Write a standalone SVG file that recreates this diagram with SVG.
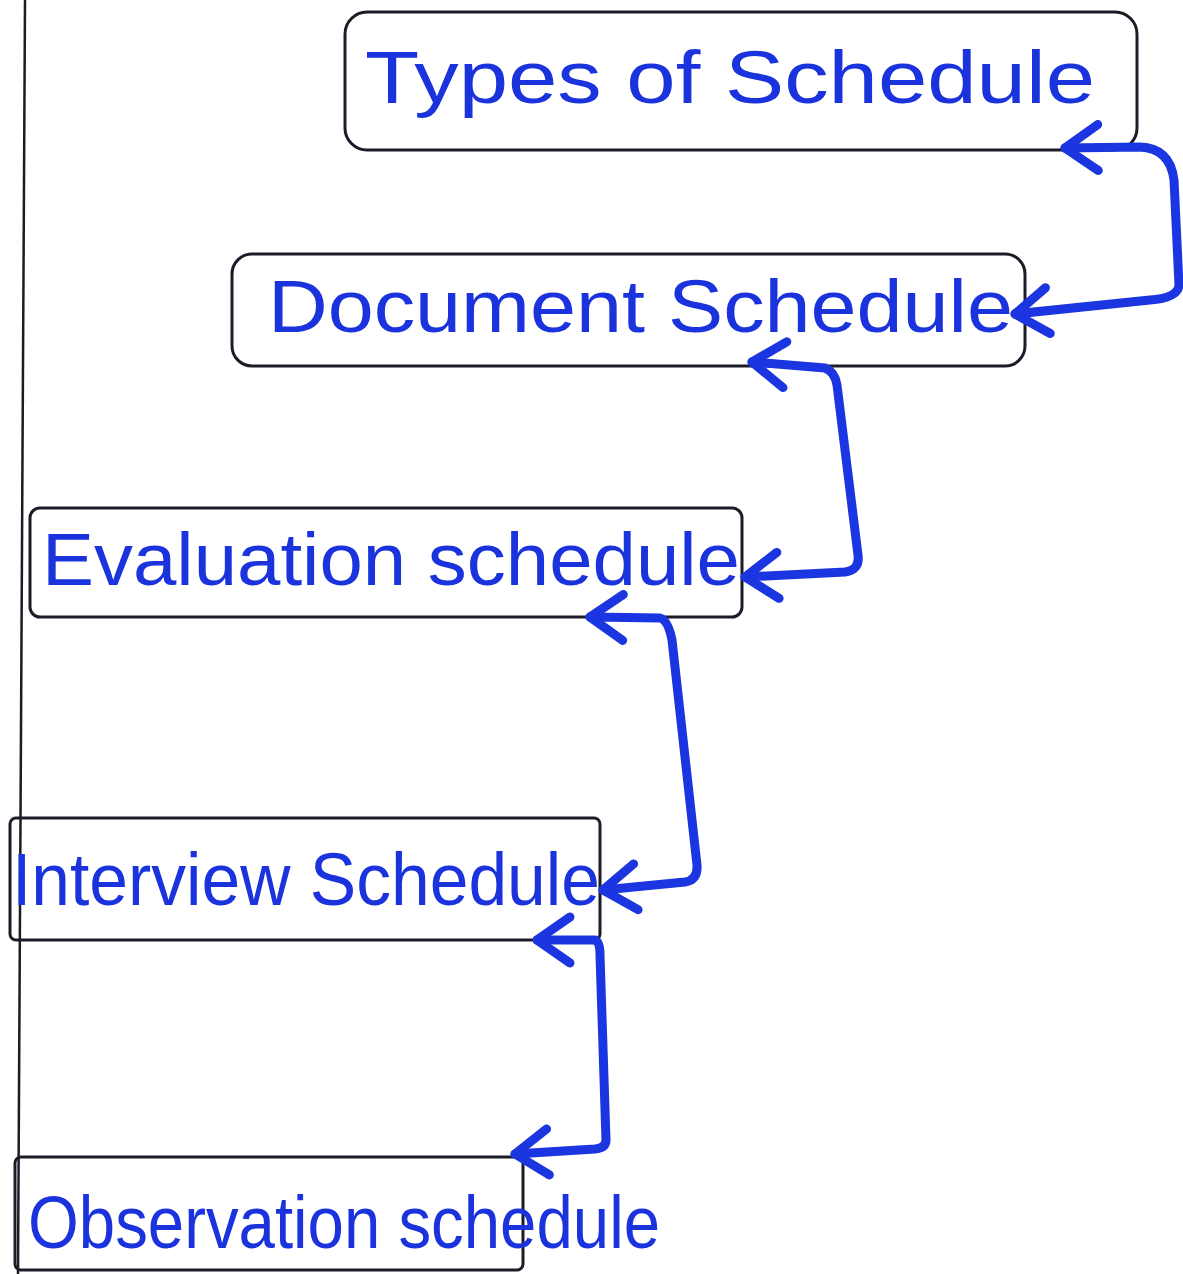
<svg xmlns="http://www.w3.org/2000/svg" width="1183" height="1274" viewBox="0 0 1183 1274">
<style>
.box{fill:none;stroke:#1c1c28;stroke-width:3}
.lbl{font-family:"Liberation Sans","Noto Sans",sans-serif;fill:#1b33dc;font-size:74px}
.con{fill:none;stroke:#1b36e0;stroke-width:9;stroke-linecap:round;stroke-linejoin:round}
</style>
<defs>
<marker id="ah" viewBox="0 0 40 50" refX="35" refY="25" markerWidth="40" markerHeight="50" markerUnits="userSpaceOnUse" orient="auto-start-reverse" overflow="visible">
<path d="M2,2 L35,25 L2,48" fill="none" stroke="#1b36e0" stroke-width="9" stroke-linecap="round" stroke-linejoin="round"/>
</marker>
</defs>
<rect width="1183" height="1274" fill="#ffffff"/>
<line x1="25" y1="0" x2="18" y2="1274" stroke="#1c1c28" stroke-width="2.5"/>
<g id="node-types">
<rect class="box" x="345" y="12" width="792" height="138" rx="22"/>
<text class="lbl" x="365" y="103" textLength="730" lengthAdjust="spacingAndGlyphs">Types of Schedule</text>
</g>
<g id="node-document">
<rect class="box" x="232" y="254" width="793" height="112" rx="20"/>
<text class="lbl" x="268" y="332" textLength="745" lengthAdjust="spacingAndGlyphs">Document Schedule</text>
</g>
<g id="node-evaluation">
<rect class="box" x="30" y="508" width="712" height="109" rx="10"/>
<text class="lbl" x="42" y="585" textLength="698" lengthAdjust="spacingAndGlyphs">Evaluation schedule</text>
</g>
<g id="node-interview">
<rect class="box" x="10" y="818" width="590" height="122" rx="6"/>
<text class="lbl" x="12" y="905" textLength="588" lengthAdjust="spacingAndGlyphs">Interview Schedule</text>
</g>
<g id="node-observation">
<rect class="box" x="15" y="1157" width="508" height="113" rx="6"/>
<text class="lbl" x="28" y="1248" textLength="632" lengthAdjust="spacingAndGlyphs">Observation schedule</text>
</g>
<g id="connectors">
<path class="con" marker-start="url(#ah)" marker-end="url(#ah)" d="M1065,148 L1140,147 Q1170,148 1174,180 L1179,285 Q1178,298 1150,300 L1015,314"/>
<path class="con" marker-start="url(#ah)" marker-end="url(#ah)" d="M752,362 L825,368 Q835,372 837,385 L858,555 Q860,570 845,572 L745,577"/>
<path class="con" marker-start="url(#ah)" marker-end="url(#ah)" d="M590,617 L660,618 Q668,620 672,640 L697,865 Q698,880 685,882 L603,890"/>
<path class="con" marker-start="url(#ah)" marker-end="url(#ah)" d="M537,940 L595,940 Q600,942 600,955 L606,1140 Q606,1148 595,1149 L515,1154"/>
</g>
</svg>
